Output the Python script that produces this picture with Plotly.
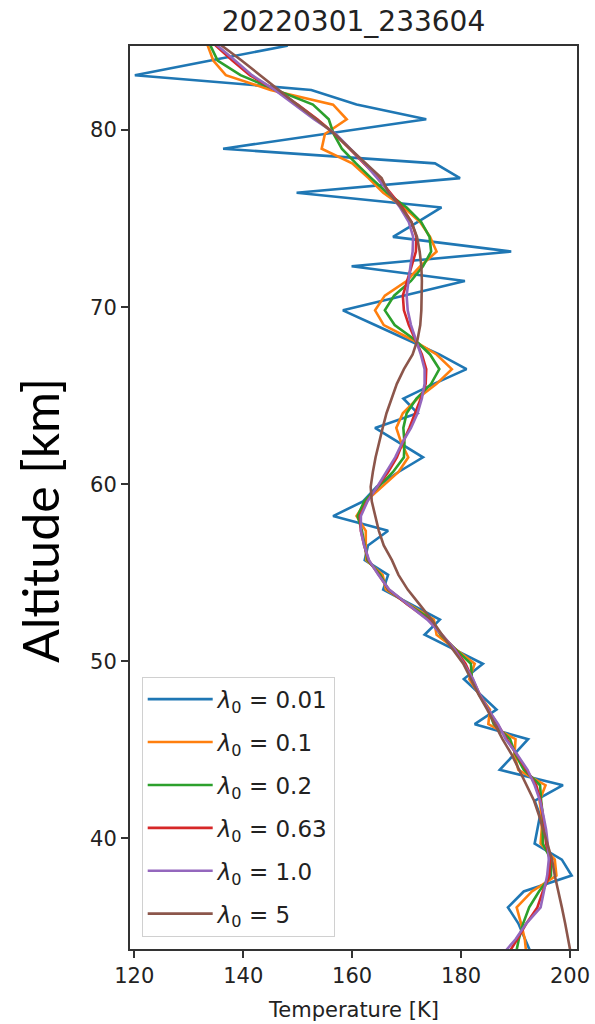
import plotly.graph_objects as go

title_text = "20220301_233604"
x_label = "Temperature [K]"
y_label = "Altitude [km]"

altitude = [85.59, 84.76, 83.93, 83.10, 82.27, 81.44, 80.61, 79.78, 78.95, 78.12,
            77.29, 76.46, 75.63, 74.80, 73.97, 73.14, 72.31, 71.48, 70.65, 69.82,
            68.99, 68.16, 67.33, 66.50, 65.67, 64.84, 64.01, 63.18, 62.35, 61.52,
            60.69, 59.86, 59.03, 58.20, 57.37, 56.54, 55.71, 54.88, 54.05, 53.20,
            52.35, 51.50, 50.68, 49.86, 49.00, 48.13, 47.27, 46.45, 45.60, 44.73,
            43.87, 43.00, 42.12, 41.30, 40.50, 39.70, 38.80, 37.90, 37.00, 36.10,
            35.20, 34.30, 33.40]

temp_l001 = [150.0, 148.0, 134.0, 120.1, 152.5, 160.8, 173.6, 155.0, 136.3, 175.2,
             179.8, 149.8, 176.4, 172.0, 167.5, 189.2, 159.9, 180.7, 169.5, 158.3,
             164.2, 170.1, 176.0, 181.0, 175.0, 169.4, 172.0, 164.2, 168.6, 173.0,
             168.5, 164.5, 162.0, 156.5, 166.6, 162.9, 162.3, 166.6, 165.7, 171.0,
             176.1, 173.3, 178.7, 184.0, 180.5, 183.5, 186.5, 182.5, 192.3, 189.7,
             187.1, 198.7, 193.5, 194.5, 194.0, 193.5, 198.5, 200.3, 191.5, 188.6,
             190.5, 191.7, 193.0]

temp_l01 = [133.0, 133.5, 134.5, 136.8, 145.0, 156.5, 159.0, 155.0, 154.4, 160.0,
            163.0, 165.7, 169.5, 172.5, 174.3, 175.5, 172.5, 170.0, 166.0, 164.2,
            165.8, 171.0, 175.5, 178.3, 175.5, 172.0, 169.3, 168.1, 169.0, 170.3,
            168.5, 165.5, 162.5, 160.8, 162.5, 162.5, 162.6, 165.6, 166.2, 170.5,
            175.0, 175.5, 179.0, 182.5, 181.5, 183.3, 185.3, 185.0, 190.0, 189.8,
            190.5, 195.5, 194.4, 194.8, 194.8, 194.6, 197.2, 197.5, 193.0, 190.2,
            191.0, 191.7, 192.0]

temp_l02 = [132.5, 134.0, 135.3, 139.5, 146.0, 152.8, 155.7, 156.6, 158.1, 160.7,
            163.5, 166.4, 170.0, 172.7, 174.2, 174.5, 173.0, 170.8, 167.7, 166.0,
            167.8, 171.5, 174.3, 176.0, 174.5, 171.8, 170.0, 169.4, 169.6, 169.5,
            167.5, 164.8, 162.2, 161.0, 161.8, 162.3, 162.8, 165.2, 166.6, 170.3,
            174.6, 176.2, 179.0, 181.8, 182.0, 183.3, 185.0, 186.0, 189.0, 190.0,
            191.5, 194.5, 194.7, 195.0, 195.0, 195.0, 196.5, 196.5, 194.3, 192.5,
            191.4, 190.6, 190.0]

temp_l063 = [132.5, 135.0, 138.0, 141.2, 145.8, 150.0, 153.6, 156.8, 159.5, 162.2,
             164.8, 167.0, 169.2, 170.9, 171.8, 171.7, 170.9, 170.0, 169.3, 169.5,
             170.4, 171.6, 172.8, 173.6, 173.5, 172.6, 171.6, 170.5, 169.3, 168.2,
             166.6, 164.7, 162.7, 161.4, 161.6, 162.2, 163.0, 164.9, 166.7, 170.2,
             174.0, 176.4, 178.9, 180.8, 182.1, 183.4, 185.0, 186.6, 188.4, 190.2,
             192.0, 193.8, 194.6, 195.0, 195.4, 195.6, 196.3, 196.2, 195.0, 194.0,
             192.0, 190.3, 188.5]

temp_l1 = [132.5, 135.3, 138.5, 141.6, 145.8, 149.5, 153.0, 157.0, 159.7, 162.3,
           164.6, 166.8, 168.8, 170.4, 171.2, 171.1, 170.7, 170.3, 170.0, 170.2,
           170.8, 171.7, 172.6, 173.3, 173.3, 172.8, 172.0, 170.8, 169.2, 167.9,
           166.3, 164.6, 162.8, 161.6, 161.6, 162.2, 163.1, 164.8, 166.8, 170.2,
           173.8, 176.5, 178.8, 180.5, 182.2, 183.4, 185.0, 186.8, 188.2, 190.3,
           192.2, 193.5, 194.5, 195.1, 195.6, 195.9, 196.1, 195.8, 195.2, 194.6,
           192.0, 190.0, 187.5]

temp_l5 = [132.5, 136.2, 139.7, 143.1, 146.4, 149.9, 153.4, 156.8, 159.6, 162.6,
           165.4, 166.7, 169.0, 170.9, 171.9, 172.4, 172.7, 172.8, 172.8, 172.7,
           172.5, 172.0, 171.1, 169.5, 168.2, 167.2, 166.3, 165.6, 164.9, 164.3,
           163.8, 163.4, 163.6, 164.2, 164.9, 165.8, 167.3, 168.5, 170.2, 172.4,
           174.6, 176.5, 178.5, 180.4, 181.8, 183.2, 184.8, 186.1, 187.6, 189.3,
           190.7, 192.0, 193.4, 194.3, 195.1, 195.9, 196.7, 197.2, 197.9, 198.5,
           199.1, 199.7, 200.2]

series_names = ["<i>λ</i><sub>0</sub> = 0.01", "<i>λ</i><sub>0</sub> = 0.1",
                "<i>λ</i><sub>0</sub> = 0.2", "<i>λ</i><sub>0</sub> = 0.63",
                "<i>λ</i><sub>0</sub> = 1.0", "<i>λ</i><sub>0</sub> = 5"]
series_values = [temp_l001, temp_l01, temp_l02, temp_l063, temp_l1, temp_l5]
colors = ["#1f77b4", "#ff7f0e", "#2ca02c", "#d62728", "#9467bd", "#8c564b"]

x_ticks = [120, 140, 160, 180, 200]
y_ticks = [40, 50, 60, 70, 80]

fig = go.Figure()
for i, (name, vals, col) in enumerate(zip(series_names, series_values, colors)):
    fig.add_trace(go.Scatter(x=vals, y=altitude, mode="lines", name=name,
                             legendgroup=f"g{i}",
                             line=dict(color=col, width=2.6)))

W, H = 595, 1024
L, R, T, B = 130, 18, 46, 75
fig.update_layout(
    width=W, height=H,
    margin=dict(l=L, r=R, t=T, b=B, autoexpand=False),
    paper_bgcolor="white", plot_bgcolor="white",
    font=dict(family="DejaVu Sans", color="#222222", size=21),
    title=dict(text=title_text, x=0.5, xref="paper", xanchor="center",
               y=1 - 21 / H, yref="container", yanchor="middle",
               font=dict(family="DejaVu Sans", size=28, color="#222222")),
    showlegend=True,
    legend=dict(x=(141.7 - L) / (W - L - R), y=(H - B - 676.7) / (H - T - B),
                xanchor="left", yanchor="top",
                bgcolor="rgba(255,255,255,0.85)", bordercolor="#d0d0d0", borderwidth=1,
                font=dict(family="DejaVu Sans", size=23, color="#222222"),
                tracegroupgap=10, itemwidth=65),
)
fig.update_xaxes(range=[119.21, 201.28], tickvals=x_ticks, ticks="outside", ticklen=7,
                 tickwidth=1.5, tickcolor="#333333", showline=True, linecolor="#333333",
                 linewidth=2, mirror=True, showgrid=False, zeroline=False, automargin=False,
                 tickfont=dict(size=21, color="#222222"))
fig.update_yaxes(range=[33.75, 84.75], tickvals=y_ticks, ticks="outside", ticklen=7,
                 tickwidth=1.5, tickcolor="#333333", showline=True, linecolor="#333333",
                 linewidth=2, mirror=True, showgrid=False, zeroline=False, automargin=False,
                 tickfont=dict(size=21, color="#222222"))

fig.add_annotation(text=x_label, xref="paper", yref="paper", x=0.5,
                   y=(H - B - 1010) / (H - T - B), xanchor="center", yanchor="middle",
                   showarrow=False, font=dict(family="DejaVu Sans", size=21, color="#222222"))
fig.add_annotation(text=y_label, xref="paper", yref="paper",
                   x=(40 - L) / (W - L - R), y=(H - B - 521) / (H - T - B),
                   xanchor="center", yanchor="middle", textangle=-90,
                   showarrow=False, font=dict(family="Lato", size=50, color="#000000"))

fig.write_html("out.html")
